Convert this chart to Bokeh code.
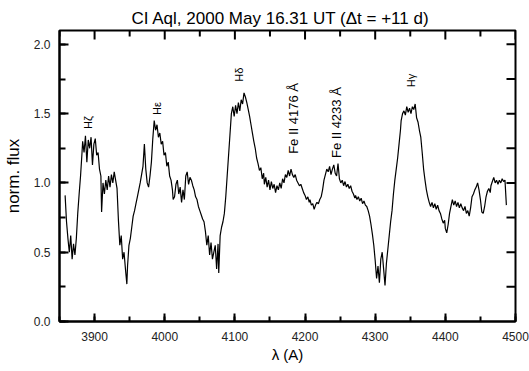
import numpy as np
from bokeh.plotting import figure
from bokeh.models import Range1d, SingleIntervalTicker, Label, CustomJSTickFormatter
from bokeh.embed import file_html
from bokeh.resources import INLINE

# ---------------- data ----------------
wave = [
    3858, 3860, 3862, 3864, 3866, 3868, 3870, 3872, 3874, 3876, 3878, 3880, 3882, 3883, 3885, 3887,
    3889, 3891, 3893, 3895, 3897, 3899, 3901, 3903, 3905, 3907, 3909, 3910, 3912, 3914, 3916, 3918,
    3920, 3922, 3924, 3926, 3928, 3930, 3932, 3934, 3936, 3938, 3940, 3942, 3944, 3946, 3947, 3949,
    3951, 3953, 3955, 3957, 3959, 3961, 3963, 3965, 3967, 3969, 3971, 3973, 3975, 3977, 3979, 3981,
    3983, 3985, 3987, 3989, 3991, 3993, 3995, 3997, 3999, 4001, 4003, 4005, 4007, 4009, 4011, 4012,
    4014, 4016, 4018, 4020, 4022, 4024, 4026, 4028, 4030, 4032, 4034, 4036, 4038, 4040, 4042, 4044,
    4046, 4048, 4050, 4052, 4054, 4056, 4058, 4060, 4062, 4064, 4066, 4068, 4070, 4072, 4074, 4076,
    4077, 4079, 4081, 4083, 4085, 4087, 4089, 4091, 4093, 4095, 4097, 4099, 4101, 4103, 4105, 4107,
    4109, 4111, 4113, 4115, 4117, 4119, 4121, 4123, 4125, 4127, 4129, 4131, 4133, 4135, 4137, 4139,
    4141, 4142, 4144, 4146, 4148, 4150, 4152, 4154, 4156, 4158, 4160, 4162, 4164, 4166, 4168, 4170,
    4172, 4174, 4176, 4178, 4180, 4182, 4184, 4186, 4188, 4190, 4192, 4194, 4196, 4198, 4200, 4202,
    4204, 4206, 4207, 4209, 4211, 4213, 4215, 4217, 4219, 4221, 4223, 4225, 4227, 4229, 4231, 4233,
    4235, 4237, 4239, 4241, 4243, 4245, 4247, 4249, 4251, 4253, 4255, 4257, 4259, 4261, 4263, 4265,
    4267, 4269, 4271, 4272, 4274, 4276, 4278, 4280, 4282, 4284, 4286, 4288, 4290, 4292, 4294, 4296,
    4298, 4300, 4302, 4304, 4306, 4308, 4310, 4312, 4314, 4316, 4318, 4320, 4322, 4324, 4326, 4328,
    4330, 4332, 4334, 4336, 4337, 4339, 4341, 4343, 4345, 4347, 4349, 4351, 4353, 4355, 4357, 4359,
    4361, 4363, 4365, 4367, 4369, 4371, 4373, 4375, 4377, 4379, 4381, 4383, 4385, 4387, 4389, 4391,
    4393, 4395, 4397, 4399, 4400, 4402, 4404, 4406, 4408, 4410, 4412, 4414, 4416, 4418, 4420, 4422,
    4424, 4426, 4428, 4430, 4432, 4434, 4436, 4438, 4440, 4442, 4444, 4446, 4448, 4450, 4452, 4454,
    4456, 4458, 4460, 4462, 4464, 4465, 4467, 4469, 4471, 4473, 4475, 4477, 4479, 4481, 4483, 4485,
    4487,
]
flux = [
    0.91, 0.72, 0.60, 0.50, 0.62, 0.45, 0.56, 0.48, 0.60, 0.78, 0.92, 1.05, 1.21, 1.30, 1.22, 1.34,
    1.15, 1.31, 1.25, 1.33, 1.13, 1.28, 1.32, 1.20, 1.22, 1.10, 1.05, 0.79, 1.00, 0.92, 1.02, 0.95,
    1.05, 0.97, 1.06, 1.00, 1.08, 1.02, 0.96, 0.73, 0.55, 0.62, 0.45, 0.50, 0.38, 0.27, 0.40, 0.55,
    0.60, 0.68, 0.76, 0.80, 0.85, 0.90, 0.95, 1.00, 1.06, 1.12, 1.28, 1.10, 1.00, 0.97, 1.05, 1.15,
    1.32, 1.45, 1.38, 1.42, 1.33, 1.36, 1.28, 1.30, 1.20, 1.22, 1.12, 1.15, 1.05, 1.02, 0.95, 0.88,
    0.90, 0.99, 1.02, 0.92, 0.97, 0.86, 0.95, 0.88, 1.05, 1.08, 0.99, 1.04, 1.02, 0.98, 0.95, 0.90,
    0.88, 0.83, 0.80, 0.77, 0.74, 0.72, 0.65, 0.55, 0.62, 0.48, 0.57, 0.45, 0.50, 0.55, 0.38, 0.56,
    0.35, 0.62, 0.68, 0.72, 0.78, 0.90, 1.05, 1.20, 1.35, 1.50, 1.55, 1.48, 1.56, 1.50, 1.58, 1.52,
    1.60, 1.57, 1.65, 1.62, 1.58, 1.53, 1.48, 1.42, 1.36, 1.30, 1.25, 1.18, 1.14, 1.09, 1.11, 1.03,
    1.07, 0.99, 1.04, 0.97, 1.02, 0.95, 1.01, 0.96, 0.99, 0.93, 0.98, 0.95, 1.00, 0.96, 1.03, 1.00,
    1.06, 1.04, 1.09, 1.05, 1.10, 1.06, 1.04, 1.06, 1.02, 1.00, 0.98, 0.99, 0.96, 0.93, 0.91, 0.88,
    0.90, 0.86, 0.88, 0.84, 0.85, 0.81, 0.84, 0.86, 0.85, 0.88, 0.90, 0.95, 1.02, 1.06, 1.10, 1.08,
    1.12, 1.06, 1.10, 1.13, 1.07, 1.05, 1.14, 1.03, 1.00, 1.02, 0.98, 1.01, 0.97, 0.99, 0.96, 0.98,
    0.94, 0.92, 0.89, 0.91, 0.88, 0.90, 0.87, 0.89, 0.85, 0.87, 0.84, 0.83, 0.80, 0.76, 0.70, 0.63,
    0.55, 0.44, 0.31, 0.40, 0.28, 0.45, 0.50, 0.38, 0.26, 0.42, 0.52, 0.62, 0.72, 0.80, 0.92, 1.02,
    1.10, 1.18, 1.28, 1.38, 1.45, 1.50, 1.52, 1.49, 1.55, 1.51, 1.54, 1.50, 1.55, 1.53, 1.57, 1.47,
    1.44, 1.38, 1.33, 1.22, 1.10, 1.02, 0.95, 0.90, 0.86, 0.83, 0.86, 0.82, 0.85, 0.81, 0.84, 0.80,
    0.78, 0.74, 0.71, 0.73, 0.67, 0.64, 0.70, 0.78, 0.83, 0.88, 0.84, 0.87, 0.83, 0.86, 0.82, 0.85,
    0.82, 0.80, 0.83, 0.78, 0.80, 0.76, 0.82, 0.90, 0.92, 0.95, 0.97, 1.00, 0.95, 0.88, 0.79, 0.78,
    0.83, 0.90, 0.94, 0.96, 0.93, 0.98, 1.01, 1.04, 1.00, 1.02, 0.99, 1.02, 1.00, 1.03, 1.01, 1.02,
    0.84,
]

line_names = ["Hζ", "Hε", "Hδ", "Hγ", "Fe II 4176 Å", "Fe II 4233 Å"]
line_x = [3891, 3989, 4106, 4351, 4183, 4245]
line_y = [1.39, 1.49, 1.73, 1.69, 1.21, 1.18]
line_size = ["11px", "11px", "11px", "11px", "13px", "13px"]

x_major_ticks = [3900, 4000, 4100, 4200, 4300, 4400, 4500]
x_minor_ticks = [3850, 3950, 4050, 4150, 4250, 4350, 4450]
y_ticks = [0.25, 0.5, 0.75, 1.0, 1.25, 1.5, 1.75, 2.0]

title_text = "CI Aql, 2000 May 16.31 UT (Δt = +11 d)"
x_label = "λ (A)"
y_label = "norm. flux"

FONT = "Liberation Sans"
X0, X1, Y0, Y1 = 3850, 4500, 0.0, 2.1

p = figure(width=529, height=371, output_backend="svg", toolbar_location=None,
           x_range=Range1d(X0, X1), y_range=Range1d(Y0, Y1),
           min_border_left=53, min_border_right=14, min_border_top=30, min_border_bottom=50)
p.background_fill_color = "white"
p.border_fill_color = "white"
p.xgrid.visible = False
p.ygrid.visible = False
p.outline_line_color = "black"
p.outline_line_width = 2

p.title.text = title_text
p.title.align = "left"
p.title.text_font = FONT
p.title.text_font_size = "17px"
p.title.text_font_style = "normal"
p.title.text_color = "black"
p.title.standoff = 6
p.title.offset = 72

xt = SingleIntervalTicker(interval=100, num_minor_ticks=2)
yt = SingleIntervalTicker(interval=0.5, num_minor_ticks=2)

for ax, ticker, ma, mi in ((p.xaxis[0], xt, 8, 5), (p.yaxis[0], yt, 9, 6)):
    ax.ticker = ticker
    ax.axis_line_color = "black"
    ax.axis_line_width = 2
    ax.major_tick_line_color = "black"
    ax.minor_tick_line_color = "black"
    ax.major_tick_line_width = 2
    ax.minor_tick_line_width = 2
    ax.major_tick_in = ma
    ax.major_tick_out = 0
    ax.minor_tick_in = mi
    ax.minor_tick_out = 0
    ax.major_label_text_font = FONT
    ax.major_label_text_font_size = "12px"
    ax.major_label_text_color = "#222222"
    ax.axis_label_text_font = FONT
    ax.axis_label_text_font_style = "normal"
    ax.axis_label_text_color = "black"

p.xaxis.major_label_standoff = 10
p.yaxis.major_label_standoff = 9
p.yaxis.formatter = CustomJSTickFormatter(code="return tick.toFixed(1);")
p.xaxis.axis_label = x_label
p.yaxis.axis_label = y_label
p.xaxis.axis_label_text_font_size = "15px"
p.yaxis.axis_label_text_font_size = "17px"
p.xaxis.axis_label_standoff = 2
p.yaxis.axis_label_standoff = 8

# mirrored ticks on top and right edges (half of each dash is clipped by the frame)
p.scatter(x_major_ticks, [Y1] * len(x_major_ticks), marker="dash", angle=np.pi / 2,
          size=18, line_color="black", line_width=2)
p.scatter(x_minor_ticks, [Y1] * len(x_minor_ticks), marker="dash", angle=np.pi / 2,
          size=12, line_color="black", line_width=2)
p.scatter([X1] * len(y_ticks), y_ticks, marker="dash", size=18,
          line_color="black", line_width=2)

p.line(wave, flux, line_color="black", line_width=1.2)

for name, lx, ly, fs in zip(line_names, line_x, line_y, line_size):
    p.add_layout(Label(x=lx, y=ly, text=name, angle=np.pi / 2, text_align="left",
                       text_baseline="middle", text_font=FONT, text_font_size=fs,
                       text_color="black"))

open("out.html", "w").write(file_html(p, INLINE))
